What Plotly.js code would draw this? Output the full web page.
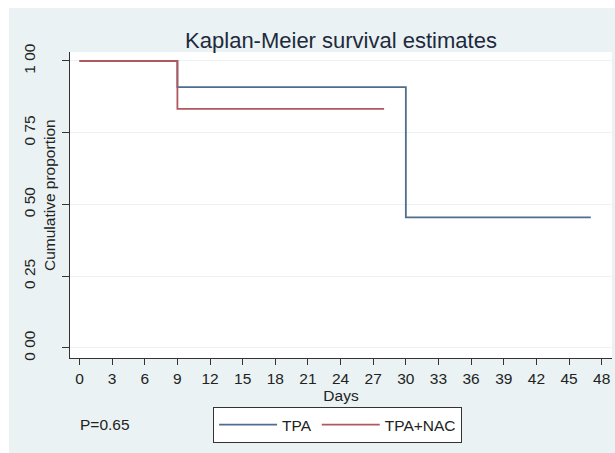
<!DOCTYPE html>
<html>
<head>
<meta charset="utf-8">
<script src="https://cdn.plot.ly/plotly-3.0.1.min.js"></script>
<style>
html,body{margin:0;padding:0;background:#ffffff;width:615px;height:453px;overflow:hidden;}
#chart{position:absolute;left:9px;top:8px;width:606px;height:445px;}
</style>
</head>
<body>
<div id="chart"></div>
<script>
// Kaplan-Meier step data
const tpaDays = [0, 9, 30, 47];
const tpaSurv = [1.00, 0.909, 0.455, 0.455];
const nacDays = [0, 9, 28];
const nacSurv = [1.00, 0.833, 0.833];
const seriesNames = ["TPA", "TPA+NAC"];
const xTicks = [0,3,6,9,12,15,18,21,24,27,30,33,36,39,42,45,48];
const yTicks = [0, 0.25, 0.5, 0.75, 1];
const yTickText = ["0 00", "0 25", "0 50", "0 75", "1 00"];
const pText = "P=0.65";

const FONT = "Liberation Sans, Arial, sans-serif";
const FS = 15.5;

const traces = [
  {x: tpaDays, y: tpaSurv, name: seriesNames[0], type: "scatter", mode: "lines",
   line: {shape: "hv", color: "#4f6e8e", width: 1.8}},
  {x: nacDays, y: nacSurv, name: seriesNames[1], type: "scatter", mode: "lines",
   line: {shape: "hv", color: "#b0585e", width: 1.8}}
];

const layout = {
  width: 606, height: 445,
  margin: {l: 61, r: 3, t: 44, b: 95},
  paper_bgcolor: "#eaf2f3",
  plot_bgcolor: "#ffffff",
  font: {family: FONT, size: FS, color: "#222222"},
  title: {text: "Kaplan-Meier survival estimates", font: {family: FONT, size: 22, color: "#1e2a3c"},
          xref: "paper", x: 0.5, xanchor: "center", yref: "container", y: 0.928, yanchor: "middle"},
  xaxis: {
    range: [-0.873, 48.95], tickvals: xTicks, ticktext: xTicks.map(String),
    showline: true, linecolor: "#333333", linewidth: 1,
    ticks: "outside", ticklen: 6, tickcolor: "#333333", tickwidth: 1,
    showgrid: false, zeroline: false,
    tickfont: {size: FS, color: "#222222"},
    title: {text: "Days", font: {size: FS, color: "#222222"}, standoff: 2}
  },
  yaxis: {
    range: [-0.0349, 1.0313], tickvals: yTicks, ticktext: yTickText,
    tickangle: -90,
    showline: true, linecolor: "#333333", linewidth: 1,
    ticks: "outside", ticklen: 7, tickcolor: "#333333", tickwidth: 1,
    ticklabelstandoff: 21,
    showgrid: true, gridcolor: "#eaf2f3", gridwidth: 1, zeroline: false,
    tickfont: {size: FS, color: "#222222"}
  },
  showlegend: true,
  legend: {
    orientation: "h", xref: "paper", yref: "paper",
    x: 0.264, y: -0.160, xanchor: "left", yanchor: "top",
    bgcolor: "#ffffff", bordercolor: "#333333", borderwidth: 1,
    font: {size: FS, color: "#222222"}, itemwidth: 58,
    tracegroupgap: 0
  },
  annotations: [
    {text: "Cumulative proportion", xref: "paper", yref: "paper", x: 0, y: 0.5,
     xanchor: "center", yanchor: "middle", xshift: -21, yshift: 10, textangle: -90,
     showarrow: false, font: {size: FS, color: "#222222"}},
    {text: pText, xref: "paper", yref: "paper", x: 0.0148, y: -0.216,
     xanchor: "left", yanchor: "middle", showarrow: false, font: {size: FS, color: "#222222"}}
  ]
};

Plotly.newPlot("chart", traces, layout, {displayModeBar: false, staticPlot: true});
</script>
</body>
</html>
